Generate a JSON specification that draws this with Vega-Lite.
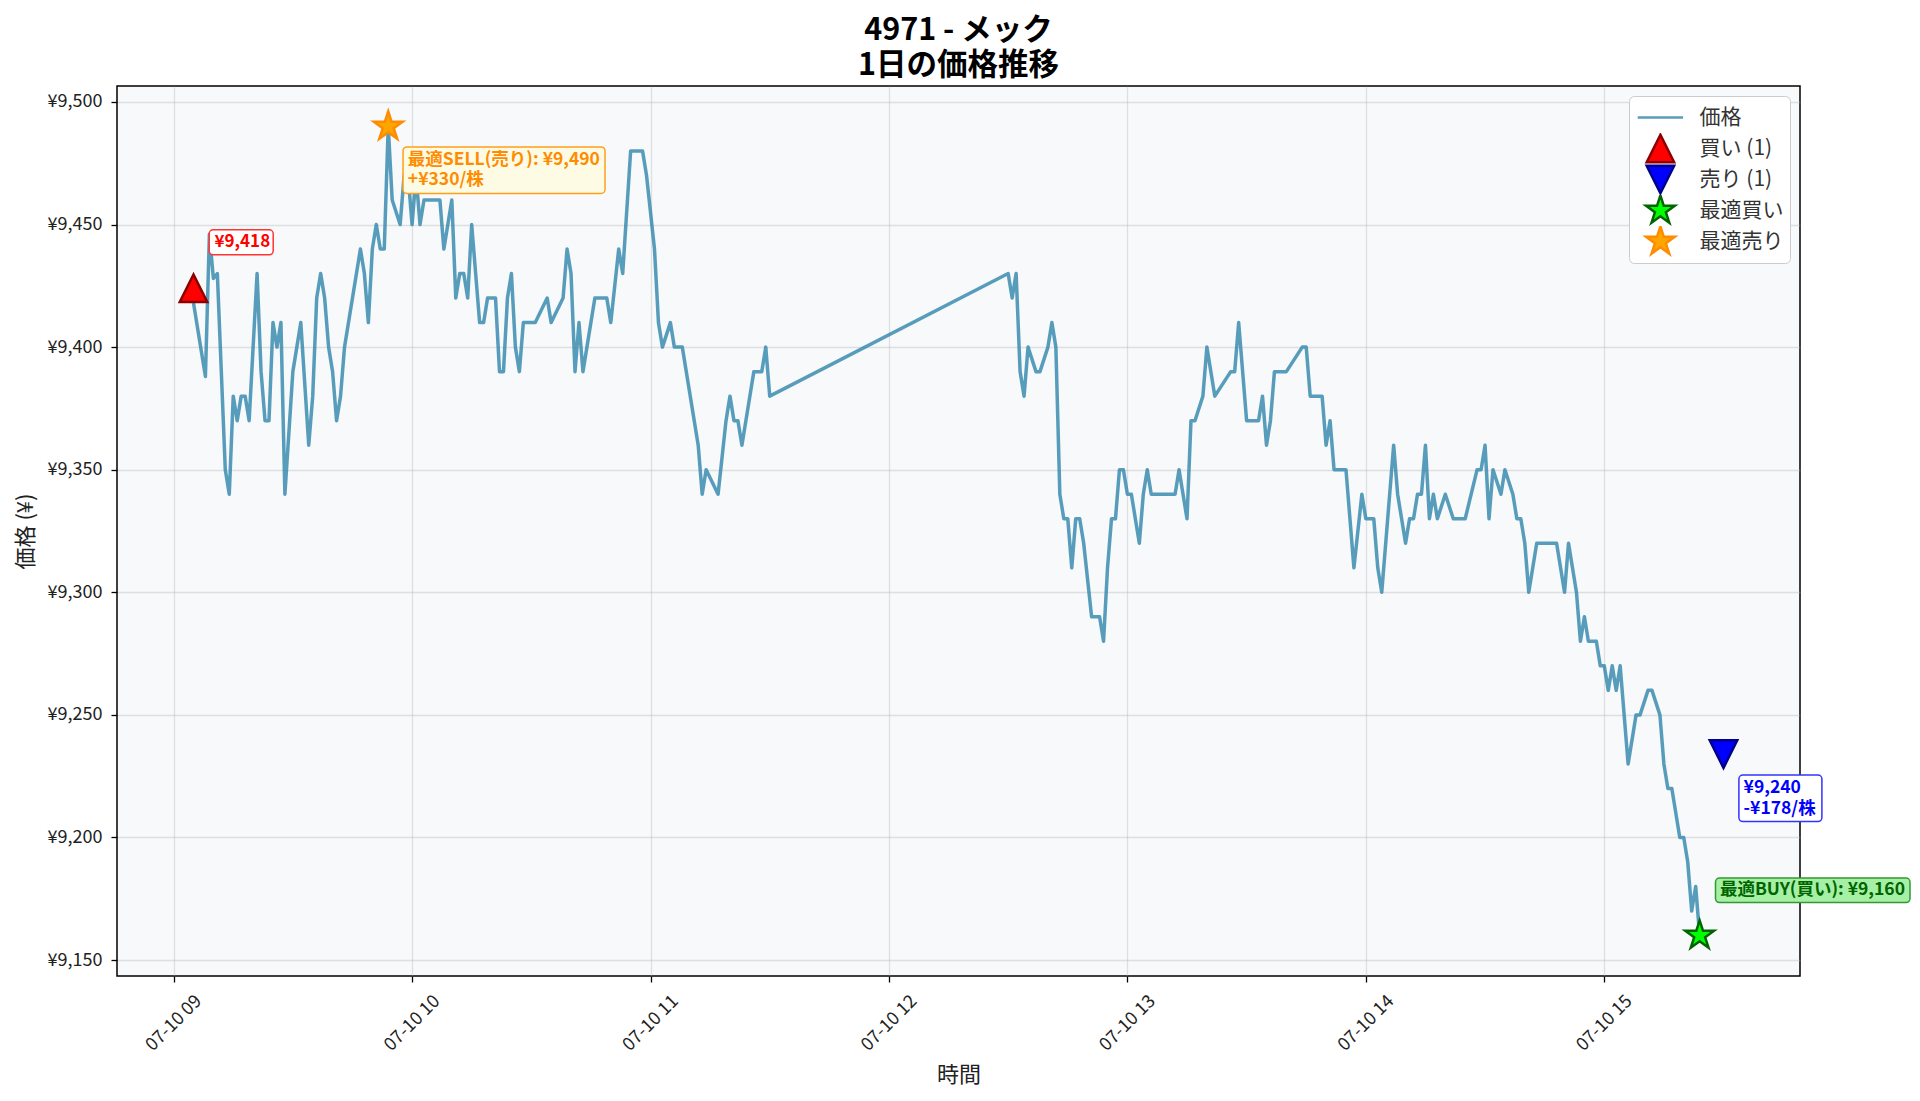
{
  "$schema": "https://vega.github.io/schema/vega-lite/v6.json",
  "width": 1683,
  "height": 890,
  "autosize": {"type": "none"},
  "padding": {"left": 117, "top": 86, "right": 120, "bottom": 125},
  "background": "white",
  "title": {
    "text": ["4971 - メック", "1日の価格推移"],
    "font": "Noto Sans CJK JP",
    "fontSize": 30.5,
    "fontWeight": "bold",
    "color": "#000000",
    "anchor": "middle",
    "lineHeight": 35,
    "offset": 5
  },
  "config": {
    "font": "Noto Sans CJK JP",
    "view": {"fill": "#f8f9fa", "stroke": "#000000", "strokeWidth": 1.5},
    "axis": {
      "domain": false,
      "grid": true,
      "gridColor": "#b0b0b0",
      "gridOpacity": 0.35,
      "gridWidth": 1.3,
      "tickColor": "#000000",
      "tickSize": 6,
      "tickWidth": 1.3,
      "labelFont": "Noto Sans CJK JP",
      "labelFontSize": 18,
      "labelColor": "#222222",
      "titleFont": "Noto Sans CJK JP",
      "titleFontSize": 22,
      "titleFontWeight": "normal",
      "titleColor": "#222222"
    },
    "legend": {
      "orient": "top-right",
      "offset": 10,
      "padding": 6,
      "rowPadding": 0,
      "clipHeight": 31,
      "symbolSize": 756,
      "symbolOffset": 10.4,
      "labelOffset": 24.2,
      "labelFont": "Noto Sans CJK JP",
      "labelFontSize": 21,
      "labelColor": "#333333",
      "fillColor": "#ffffff",
      "strokeColor": "#cccccc",
      "cornerRadius": 5,
      "symbolStrokeWidth": 2.5
    }
  },
  "datasets": {
    "prices": [
      {"t": "2025-07-10T09:05", "p": 9418}, {"t": "2025-07-10T09:08", "p": 9388}, {"t": "2025-07-10T09:09", "p": 9446},
      {"t": "2025-07-10T09:10", "p": 9428}, {"t": "2025-07-10T09:11", "p": 9430}, {"t": "2025-07-10T09:13", "p": 9350},
      {"t": "2025-07-10T09:14", "p": 9340}, {"t": "2025-07-10T09:15", "p": 9380}, {"t": "2025-07-10T09:16", "p": 9370},
      {"t": "2025-07-10T09:17", "p": 9380}, {"t": "2025-07-10T09:18", "p": 9380}, {"t": "2025-07-10T09:19", "p": 9370},
      {"t": "2025-07-10T09:21", "p": 9430}, {"t": "2025-07-10T09:22", "p": 9390}, {"t": "2025-07-10T09:23", "p": 9370},
      {"t": "2025-07-10T09:24", "p": 9370}, {"t": "2025-07-10T09:25", "p": 9410}, {"t": "2025-07-10T09:26", "p": 9400},
      {"t": "2025-07-10T09:27", "p": 9410}, {"t": "2025-07-10T09:28", "p": 9340}, {"t": "2025-07-10T09:30", "p": 9390},
      {"t": "2025-07-10T09:32", "p": 9410}, {"t": "2025-07-10T09:34", "p": 9360}, {"t": "2025-07-10T09:35", "p": 9380},
      {"t": "2025-07-10T09:36", "p": 9420}, {"t": "2025-07-10T09:37", "p": 9430}, {"t": "2025-07-10T09:38", "p": 9420},
      {"t": "2025-07-10T09:39", "p": 9400}, {"t": "2025-07-10T09:40", "p": 9390}, {"t": "2025-07-10T09:41", "p": 9370},
      {"t": "2025-07-10T09:42", "p": 9380}, {"t": "2025-07-10T09:43", "p": 9400}, {"t": "2025-07-10T09:47", "p": 9440},
      {"t": "2025-07-10T09:48", "p": 9430}, {"t": "2025-07-10T09:49", "p": 9410}, {"t": "2025-07-10T09:50", "p": 9440},
      {"t": "2025-07-10T09:51", "p": 9450}, {"t": "2025-07-10T09:52", "p": 9440}, {"t": "2025-07-10T09:53", "p": 9440},
      {"t": "2025-07-10T09:54", "p": 9490}, {"t": "2025-07-10T09:55", "p": 9460}, {"t": "2025-07-10T09:57", "p": 9450},
      {"t": "2025-07-10T09:58", "p": 9470}, {"t": "2025-07-10T09:59", "p": 9470}, {"t": "2025-07-10T10:00", "p": 9450},
      {"t": "2025-07-10T10:01", "p": 9470}, {"t": "2025-07-10T10:02", "p": 9450}, {"t": "2025-07-10T10:03", "p": 9460},
      {"t": "2025-07-10T10:07", "p": 9460}, {"t": "2025-07-10T10:08", "p": 9440}, {"t": "2025-07-10T10:10", "p": 9460},
      {"t": "2025-07-10T10:11", "p": 9420}, {"t": "2025-07-10T10:12", "p": 9430}, {"t": "2025-07-10T10:13", "p": 9430},
      {"t": "2025-07-10T10:14", "p": 9420}, {"t": "2025-07-10T10:15", "p": 9450}, {"t": "2025-07-10T10:16", "p": 9430},
      {"t": "2025-07-10T10:17", "p": 9410}, {"t": "2025-07-10T10:18", "p": 9410}, {"t": "2025-07-10T10:19", "p": 9420},
      {"t": "2025-07-10T10:21", "p": 9420}, {"t": "2025-07-10T10:22", "p": 9390}, {"t": "2025-07-10T10:23", "p": 9390},
      {"t": "2025-07-10T10:24", "p": 9420}, {"t": "2025-07-10T10:25", "p": 9430}, {"t": "2025-07-10T10:26", "p": 9400},
      {"t": "2025-07-10T10:27", "p": 9390}, {"t": "2025-07-10T10:28", "p": 9410}, {"t": "2025-07-10T10:31", "p": 9410},
      {"t": "2025-07-10T10:34", "p": 9420}, {"t": "2025-07-10T10:35", "p": 9410}, {"t": "2025-07-10T10:38", "p": 9420},
      {"t": "2025-07-10T10:39", "p": 9440}, {"t": "2025-07-10T10:40", "p": 9430}, {"t": "2025-07-10T10:41", "p": 9390},
      {"t": "2025-07-10T10:42", "p": 9410}, {"t": "2025-07-10T10:43", "p": 9390}, {"t": "2025-07-10T10:46", "p": 9420},
      {"t": "2025-07-10T10:49", "p": 9420}, {"t": "2025-07-10T10:50", "p": 9410}, {"t": "2025-07-10T10:52", "p": 9440},
      {"t": "2025-07-10T10:53", "p": 9430}, {"t": "2025-07-10T10:55", "p": 9480}, {"t": "2025-07-10T10:58", "p": 9480},
      {"t": "2025-07-10T10:59", "p": 9470}, {"t": "2025-07-10T11:01", "p": 9440}, {"t": "2025-07-10T11:02", "p": 9410},
      {"t": "2025-07-10T11:03", "p": 9400}, {"t": "2025-07-10T11:05", "p": 9410}, {"t": "2025-07-10T11:06", "p": 9400},
      {"t": "2025-07-10T11:08", "p": 9400}, {"t": "2025-07-10T11:12", "p": 9360}, {"t": "2025-07-10T11:13", "p": 9340},
      {"t": "2025-07-10T11:14", "p": 9350}, {"t": "2025-07-10T11:17", "p": 9340}, {"t": "2025-07-10T11:19", "p": 9370},
      {"t": "2025-07-10T11:20", "p": 9380}, {"t": "2025-07-10T11:21", "p": 9370}, {"t": "2025-07-10T11:22", "p": 9370},
      {"t": "2025-07-10T11:23", "p": 9360}, {"t": "2025-07-10T11:26", "p": 9390}, {"t": "2025-07-10T11:28", "p": 9390},
      {"t": "2025-07-10T11:29", "p": 9400}, {"t": "2025-07-10T11:30", "p": 9380}, {"t": "2025-07-10T12:30", "p": 9430},
      {"t": "2025-07-10T12:31", "p": 9420}, {"t": "2025-07-10T12:32", "p": 9430}, {"t": "2025-07-10T12:33", "p": 9390},
      {"t": "2025-07-10T12:34", "p": 9380}, {"t": "2025-07-10T12:35", "p": 9400}, {"t": "2025-07-10T12:37", "p": 9390},
      {"t": "2025-07-10T12:38", "p": 9390}, {"t": "2025-07-10T12:40", "p": 9400}, {"t": "2025-07-10T12:41", "p": 9410},
      {"t": "2025-07-10T12:42", "p": 9400}, {"t": "2025-07-10T12:43", "p": 9340}, {"t": "2025-07-10T12:44", "p": 9330},
      {"t": "2025-07-10T12:45", "p": 9330}, {"t": "2025-07-10T12:46", "p": 9310}, {"t": "2025-07-10T12:47", "p": 9330},
      {"t": "2025-07-10T12:48", "p": 9330}, {"t": "2025-07-10T12:49", "p": 9320}, {"t": "2025-07-10T12:51", "p": 9290},
      {"t": "2025-07-10T12:53", "p": 9290}, {"t": "2025-07-10T12:54", "p": 9280}, {"t": "2025-07-10T12:55", "p": 9310},
      {"t": "2025-07-10T12:56", "p": 9330}, {"t": "2025-07-10T12:57", "p": 9330}, {"t": "2025-07-10T12:58", "p": 9350},
      {"t": "2025-07-10T12:59", "p": 9350}, {"t": "2025-07-10T13:00", "p": 9340}, {"t": "2025-07-10T13:01", "p": 9340},
      {"t": "2025-07-10T13:03", "p": 9320}, {"t": "2025-07-10T13:04", "p": 9340}, {"t": "2025-07-10T13:05", "p": 9350},
      {"t": "2025-07-10T13:06", "p": 9340}, {"t": "2025-07-10T13:12", "p": 9340}, {"t": "2025-07-10T13:13", "p": 9350},
      {"t": "2025-07-10T13:15", "p": 9330}, {"t": "2025-07-10T13:16", "p": 9370}, {"t": "2025-07-10T13:17", "p": 9370},
      {"t": "2025-07-10T13:19", "p": 9380}, {"t": "2025-07-10T13:20", "p": 9400}, {"t": "2025-07-10T13:22", "p": 9380},
      {"t": "2025-07-10T13:26", "p": 9390}, {"t": "2025-07-10T13:27", "p": 9390}, {"t": "2025-07-10T13:28", "p": 9410},
      {"t": "2025-07-10T13:30", "p": 9370}, {"t": "2025-07-10T13:33", "p": 9370}, {"t": "2025-07-10T13:34", "p": 9380},
      {"t": "2025-07-10T13:35", "p": 9360}, {"t": "2025-07-10T13:36", "p": 9370}, {"t": "2025-07-10T13:37", "p": 9390},
      {"t": "2025-07-10T13:40", "p": 9390}, {"t": "2025-07-10T13:44", "p": 9400}, {"t": "2025-07-10T13:45", "p": 9400},
      {"t": "2025-07-10T13:46", "p": 9380}, {"t": "2025-07-10T13:49", "p": 9380}, {"t": "2025-07-10T13:50", "p": 9360},
      {"t": "2025-07-10T13:51", "p": 9370}, {"t": "2025-07-10T13:52", "p": 9350}, {"t": "2025-07-10T13:55", "p": 9350},
      {"t": "2025-07-10T13:57", "p": 9310}, {"t": "2025-07-10T13:59", "p": 9340}, {"t": "2025-07-10T14:00", "p": 9330},
      {"t": "2025-07-10T14:02", "p": 9330}, {"t": "2025-07-10T14:03", "p": 9310}, {"t": "2025-07-10T14:04", "p": 9300},
      {"t": "2025-07-10T14:07", "p": 9360}, {"t": "2025-07-10T14:08", "p": 9340}, {"t": "2025-07-10T14:10", "p": 9320},
      {"t": "2025-07-10T14:11", "p": 9330}, {"t": "2025-07-10T14:12", "p": 9330}, {"t": "2025-07-10T14:13", "p": 9340},
      {"t": "2025-07-10T14:14", "p": 9340}, {"t": "2025-07-10T14:15", "p": 9360}, {"t": "2025-07-10T14:16", "p": 9330},
      {"t": "2025-07-10T14:17", "p": 9340}, {"t": "2025-07-10T14:18", "p": 9330}, {"t": "2025-07-10T14:20", "p": 9340},
      {"t": "2025-07-10T14:22", "p": 9330}, {"t": "2025-07-10T14:25", "p": 9330}, {"t": "2025-07-10T14:28", "p": 9350},
      {"t": "2025-07-10T14:29", "p": 9350}, {"t": "2025-07-10T14:30", "p": 9360}, {"t": "2025-07-10T14:31", "p": 9330},
      {"t": "2025-07-10T14:32", "p": 9350}, {"t": "2025-07-10T14:34", "p": 9340}, {"t": "2025-07-10T14:35", "p": 9350},
      {"t": "2025-07-10T14:37", "p": 9340}, {"t": "2025-07-10T14:38", "p": 9330}, {"t": "2025-07-10T14:39", "p": 9330},
      {"t": "2025-07-10T14:40", "p": 9320}, {"t": "2025-07-10T14:41", "p": 9300}, {"t": "2025-07-10T14:43", "p": 9320},
      {"t": "2025-07-10T14:48", "p": 9320}, {"t": "2025-07-10T14:50", "p": 9300}, {"t": "2025-07-10T14:51", "p": 9320},
      {"t": "2025-07-10T14:53", "p": 9300}, {"t": "2025-07-10T14:54", "p": 9280}, {"t": "2025-07-10T14:55", "p": 9290},
      {"t": "2025-07-10T14:56", "p": 9280}, {"t": "2025-07-10T14:58", "p": 9280}, {"t": "2025-07-10T14:59", "p": 9270},
      {"t": "2025-07-10T15:00", "p": 9270}, {"t": "2025-07-10T15:01", "p": 9260}, {"t": "2025-07-10T15:02", "p": 9270},
      {"t": "2025-07-10T15:03", "p": 9260}, {"t": "2025-07-10T15:04", "p": 9270}, {"t": "2025-07-10T15:06", "p": 9230},
      {"t": "2025-07-10T15:08", "p": 9250}, {"t": "2025-07-10T15:09", "p": 9250}, {"t": "2025-07-10T15:11", "p": 9260},
      {"t": "2025-07-10T15:12", "p": 9260}, {"t": "2025-07-10T15:14", "p": 9250}, {"t": "2025-07-10T15:15", "p": 9230},
      {"t": "2025-07-10T15:16", "p": 9220}, {"t": "2025-07-10T15:17", "p": 9220}, {"t": "2025-07-10T15:19", "p": 9200},
      {"t": "2025-07-10T15:20", "p": 9200}, {"t": "2025-07-10T15:21", "p": 9190}, {"t": "2025-07-10T15:22", "p": 9170},
      {"t": "2025-07-10T15:23", "p": 9180}, {"t": "2025-07-10T15:24", "p": 9160}
    ],
    "trades": [
      {"t": "2025-07-10T09:05", "p": 9424, "type": "買い (1)", "kind": "buy", "label": "¥9,418"},
      {"t": "2025-07-10T15:30", "p": 9234, "type": "売り (1)", "kind": "sell", "label": "¥9,240\n-¥178/株"},
      {"t": "2025-07-10T15:24", "p": 9160, "type": "最適買い", "kind": "bestbuy", "label": "最適BUY(買い): ¥9,160"},
      {"t": "2025-07-10T09:54", "p": 9490, "type": "最適売り", "kind": "bestsell", "label": "最適SELL(売り): ¥9,490\n+¥330/株"}
    ]
  },
  "encoding": {
    "x": {
      "field": "t",
      "type": "temporal",
      "title": "時間",
      "scale": {
        "domain": [
          {"year": 2025, "month": 7, "date": 10, "hours": 8, "minutes": 45, "seconds": 45},
          {"year": 2025, "month": 7, "date": 10, "hours": 15, "minutes": 49, "seconds": 15}
        ]
      },
      "axis": {
        "format": "%m-%d %H",
        "values": [
          {"year": 2025, "month": 7, "date": 10, "hours": 9},
          {"year": 2025, "month": 7, "date": 10, "hours": 10},
          {"year": 2025, "month": 7, "date": 10, "hours": 11},
          {"year": 2025, "month": 7, "date": 10, "hours": 12},
          {"year": 2025, "month": 7, "date": 10, "hours": 13},
          {"year": 2025, "month": 7, "date": 10, "hours": 14},
          {"year": 2025, "month": 7, "date": 10, "hours": 15}
        ],
        "labelAngle": -45,
        "labelAlign": "center",
        "labelBaseline": "middle",
        "labelPadding": 41,
        "titlePadding": 10
      }
    },
    "y": {
      "field": "p",
      "type": "quantitative",
      "title": "価格 (¥)",
      "scale": {"domain": [9143.5, 9506.5], "nice": false, "zero": false},
      "axis": {
        "values": [9150, 9200, 9250, 9300, 9350, 9400, 9450, 9500],
        "labelExpr": "'¥' + format(datum.value, ',')",
        "labelPadding": 9,
        "titlePadding": 10
      }
    }
  },
  "layer": [
    {
      "data": {"name": "prices"},
      "mark": {"type": "line", "color": "#2E86AB", "opacity": 0.8, "strokeWidth": 3.5, "strokeJoin": "round"},
      "encoding": {}
    },
    {
      "data": {"name": "trades"},
      "mark": {"type": "point", "filled": true, "opacity": 1, "strokeWidth": 2.5, "size": 756},
      "encoding": {
        "shape": {
          "field": "type", "type": "nominal", "legend": {"title": null},
          "scale": {
            "domain": ["価格", "買い (1)", "売り (1)", "最適買い", "最適売り"],
            "range": [
              "M-1.65,0L1.65,0",
              "M0,-1L-1,1L1,1Z",
              "M0,1L-1,-1L1,-1Z",
              "M0,-1.1L-0.247,-0.34L-1.046,-0.34L-0.4,0.13L-0.647,0.89L0,0.42L0.647,0.89L0.4,0.13L1.046,-0.34L0.247,-0.34Z",
              "M0,-1.1L-0.247,-0.34L-1.046,-0.34L-0.4,0.13L-0.647,0.89L0,0.42L0.647,0.89L0.4,0.13L1.046,-0.34L0.247,-0.34Z"
            ]
          }
        },
        "fill": {
          "field": "type", "type": "nominal", "legend": {"title": null},
          "scale": {
            "domain": ["価格", "買い (1)", "売り (1)", "最適買い", "最適売り"],
            "range": ["#589dba", "#ff0000", "#0000ff", "#00ff00", "#ffa500"]
          }
        },
        "stroke": {
          "field": "type", "type": "nominal", "legend": {"title": null},
          "scale": {
            "domain": ["価格", "買い (1)", "売り (1)", "最適買い", "最適売り"],
            "range": ["#589dba", "#8b0000", "#00008b", "#006400", "#ff8c00"]
          }
        }
      }
    },
    {
      "data": {"name": "trades"},
      "transform": [{"filter": "datum.kind === 'buy'"}],
      "mark": {"type": "rect", "width": 64, "height": 25, "xOffset": 47.7, "yOffset": -45.9, "fill": "#ffffff", "stroke": "#ff3333", "strokeWidth": 1.5, "cornerRadius": 4}
    },
    {
      "data": {"name": "trades"},
      "transform": [{"filter": "datum.kind === 'buy'"}],
      "mark": {"type": "text", "align": "left", "baseline": "middle", "dx": 21, "dy": -45.9, "fontSize": 17, "fontWeight": "bold", "color": "#ff0000", "lineBreak": "\n"},
      "encoding": {"text": {"field": "label"}}
    },
    {
      "data": {"name": "trades"},
      "transform": [{"filter": "datum.kind === 'bestsell'"}],
      "mark": {"type": "rect", "width": 202, "height": 46.5, "xOffset": 115.8, "yOffset": 43.75, "fill": "#fdfbe3", "stroke": "#ff9f1a", "strokeWidth": 1.5, "cornerRadius": 4}
    },
    {
      "data": {"name": "trades"},
      "transform": [{"filter": "datum.kind === 'bestsell'"}],
      "mark": {"type": "text", "align": "left", "baseline": "middle", "dx": 19.6, "dy": 33.5, "fontSize": 17.5, "fontWeight": "bold", "color": "#ff8c00", "lineBreak": "\n", "lineHeight": 20.5},
      "encoding": {"text": {"field": "label"}}
    },
    {
      "data": {"name": "trades"},
      "transform": [{"filter": "datum.kind === 'sell'"}],
      "mark": {"type": "rect", "width": 83, "height": 46.5, "xOffset": 56.9, "yOffset": 44.2, "fill": "#ffffff", "stroke": "#3333ff", "strokeWidth": 1.5, "cornerRadius": 4}
    },
    {
      "data": {"name": "trades"},
      "transform": [{"filter": "datum.kind === 'sell'"}],
      "mark": {"type": "text", "align": "left", "baseline": "middle", "dx": 20.1, "dy": 34, "fontSize": 17.5, "fontWeight": "bold", "color": "#0000ff", "lineBreak": "\n", "lineHeight": 20.5},
      "encoding": {"text": {"field": "label"}}
    },
    {
      "data": {"name": "trades"},
      "transform": [{"filter": "datum.kind === 'bestbuy'"}],
      "mark": {"type": "rect", "width": 194.5, "height": 24.5, "xOffset": 113.1, "yOffset": -45.25, "fill": "#a5f0a5", "stroke": "#339933", "strokeWidth": 1.5, "cornerRadius": 4}
    },
    {
      "data": {"name": "trades"},
      "transform": [{"filter": "datum.kind === 'bestbuy'"}],
      "mark": {"type": "text", "align": "left", "baseline": "middle", "dx": 20.3, "dy": -45.25, "fontSize": 17.5, "fontWeight": "bold", "color": "#006400", "lineBreak": "\n"},
      "encoding": {"text": {"field": "label"}}
    }
  ]
}
